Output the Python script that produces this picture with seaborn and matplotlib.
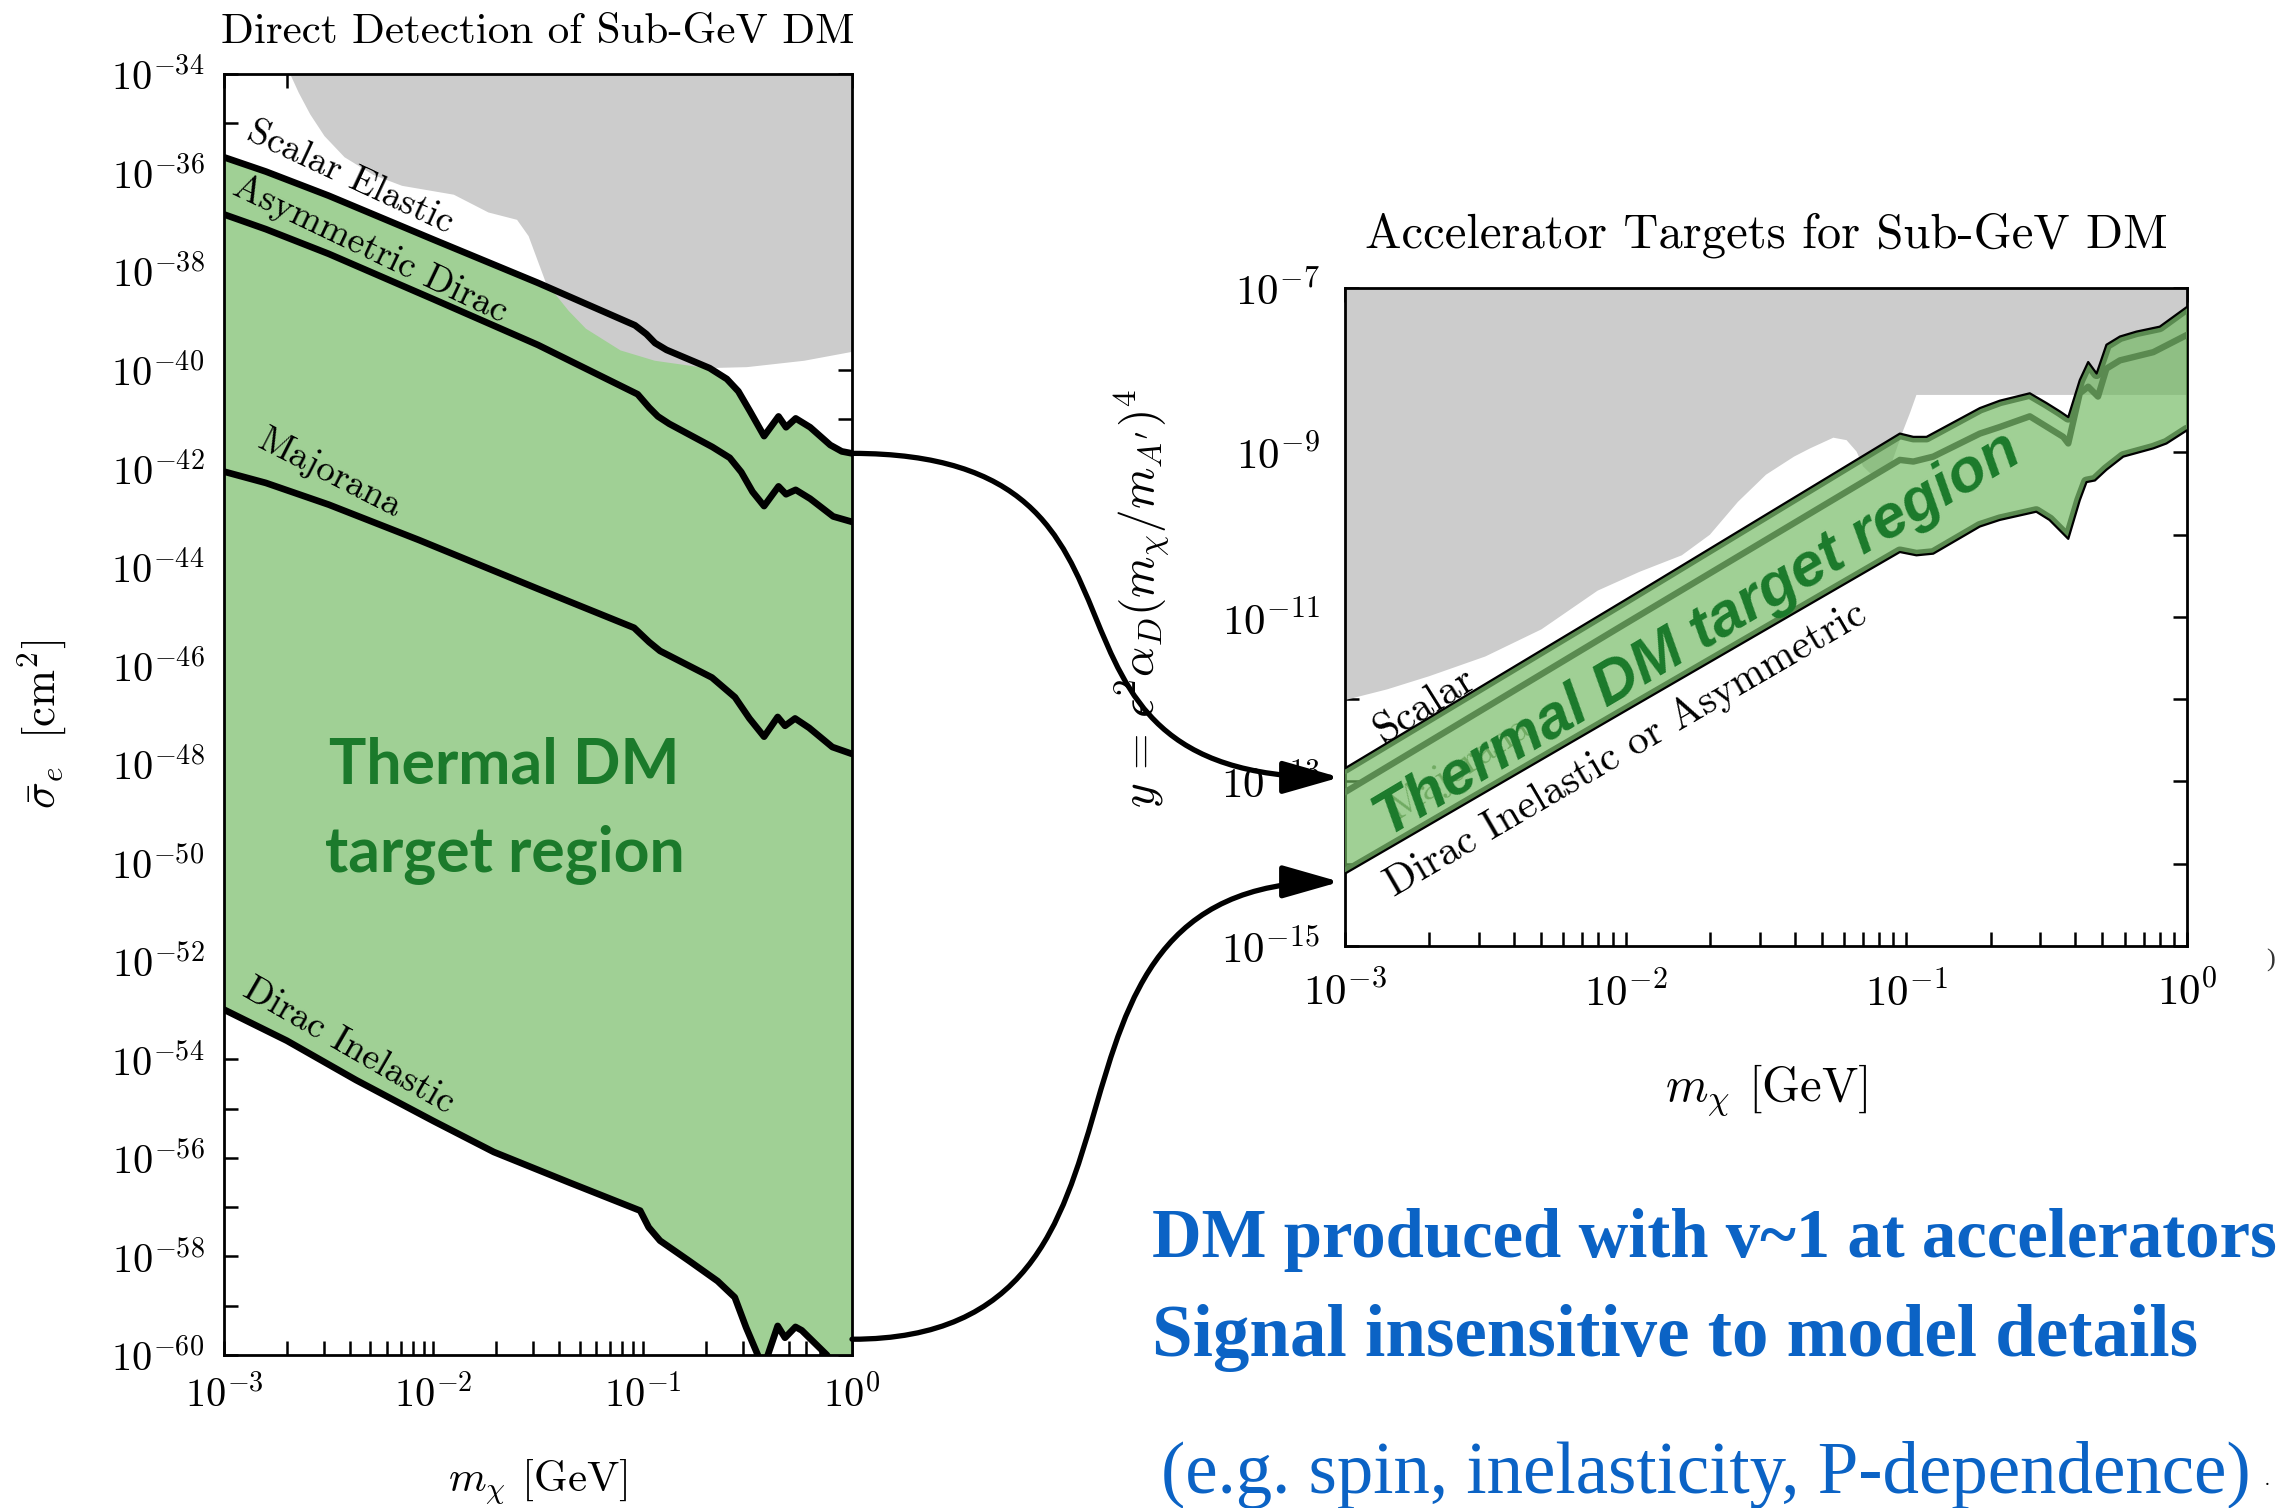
import numpy as np
import matplotlib
matplotlib.use("Agg")
import matplotlib.pyplot as plt
import seaborn as sns
from matplotlib.ticker import LogLocator, FuncFormatter, NullLocator, NullFormatter, FixedLocator
from matplotlib.patches import FancyArrowPatch
from matplotlib.path import Path

# ---------------- Direct detection panel: log10(m_chi/GeV) vs log10(sigma_e/cm^2)
scalar_elastic_logm = [-3.0, -2.8, -2.5, -2.0, -1.5, -1.037, -0.982, -0.941, -0.886, -0.680, -0.598,
                       -0.543, -0.488, -0.420, -0.351, -0.315, -0.269, -0.200, -0.104, -0.049, 0.0]
scalar_elastic_logs = [-35.69, -35.98, -36.47, -37.36, -38.24, -39.10, -39.28, -39.46, -39.60, -39.97, -40.19,
                       -40.44, -40.84, -41.35, -40.95, -41.17, -40.99, -41.17, -41.53, -41.66, -41.70]

asym_dirac_logm = [-3.0, -2.8, -2.5, -2.0, -1.5, -1.024, -0.969, -0.927, -0.873, -0.667, -0.584,
                   -0.529, -0.475, -0.420, -0.351, -0.315, -0.269, -0.200, -0.090, 0.0]
asym_dirac_logs = [-36.85, -37.15, -37.65, -38.57, -39.50, -40.50, -40.77, -40.95, -41.10, -41.57, -41.79,
                   -42.08, -42.48, -42.77, -42.37, -42.53, -42.44, -42.62, -42.98, -43.09]

majorana_logm = [-3.0, -2.8, -2.5, -2.068, -1.5, -1.041, -0.969, -0.917, -0.669, -0.559, -0.490,
                 -0.420, -0.355, -0.320, -0.272, -0.205, -0.094, 0.0]
majorana_logs = [-42.07, -42.30, -42.74, -43.46, -44.45, -45.24, -45.53, -45.71, -46.25, -46.65, -47.08,
                 -47.45, -47.05, -47.23, -47.08, -47.27, -47.66, -47.80]

dirac_inel_logm = [-3.0, -2.7, -2.369, -2.0, -1.711, -1.35, -1.012, -0.971, -0.917, -0.778, -0.642,
                   -0.560, -0.506, -0.450, -0.430, -0.410, -0.355, -0.320, -0.270, -0.240, -0.120, -0.050, 0.0]
dirac_inel_logs = [-52.99, -53.62, -54.42, -55.25, -55.88, -56.50, -57.07, -57.41, -57.68, -58.09, -58.50,
                   -58.83, -59.44, -60.00, -60.40, -60.10, -59.41, -59.65, -59.43, -59.50, -60.00, -60.50, -60.70]

dd_excluded_logm = [-2.684, -2.643, -2.588, -2.520, -2.424, -2.286, -2.149, -1.902, -1.737, -1.600, -1.545,
                    -1.463, -1.353, -1.271, -1.106, -0.942, -0.694, -0.502, -0.228, 0.0]
dd_excluded_logs = [-34.00, -34.38, -34.82, -35.26, -35.69, -36.05, -36.27, -36.45, -36.81, -36.96, -37.29,
                    -38.23, -38.81, -39.17, -39.61, -39.82, -39.97, -39.95, -39.82, -39.64]

# ---------------- Accelerator panel: log10(m_chi/GeV) vs log10(y)
acc_scalar_logm = [-3.0, -2.0, -1.023, -0.975, -0.928, -0.738, -0.667, -0.560, -0.500, -0.453, -0.423,
                   -0.382, -0.352, -0.322, -0.287, -0.239, -0.180, -0.097, 0.0]
acc_scalar_logy = [-12.84, -10.79, -8.77, -8.81, -8.81, -8.46, -8.37, -8.28, -8.40, -8.50, -8.57,
                   -8.12, -7.90, -8.04, -7.69, -7.59, -7.53, -7.47, -7.23]

acc_majorana_logm = [-3.0, -2.0, -1.023, -0.975, -0.904, -0.738, -0.667, -0.560, -0.441, -0.423, -0.382,
                     -0.352, -0.317, -0.287, -0.239, -0.120, 0.0]
acc_majorana_logy = [-13.13, -11.08, -9.09, -9.11, -9.05, -8.77, -8.69, -8.56, -8.81, -8.89, -8.28,
                     -8.20, -8.32, -7.98, -7.88, -7.78, -7.57]

acc_dirac_logm = [-3.0, -2.0, -1.023, -0.964, -0.904, -0.738, -0.667, -0.537, -0.490, -0.423, -0.382,
                  -0.358, -0.328, -0.287, -0.227, -0.120, -0.073, 0.0]
acc_dirac_logy = [-14.12, -12.14, -10.21, -10.25, -10.23, -9.90, -9.82, -9.72, -9.82, -10.05, -9.58,
                  -9.36, -9.34, -9.21, -9.05, -8.95, -8.89, -8.73]

acc_excluded_logm = [-3.0, -2.85, -2.70, -2.50, -2.30, -2.10, -1.95, -1.80, -1.70, -1.60, -1.50, -1.40,
                     -1.343, -1.26, -1.213, -1.177, -1.154, -1.12, -1.06, -1.011, -0.987, -0.964, 0.0]
acc_excluded_logy = [-12.01, -11.88, -11.72, -11.48, -11.15, -10.68, -10.45, -10.25, -10.00, -9.60, -9.27, -9.05,
                     -8.95, -8.82, -8.85, -8.99, -9.17, -9.28, -9.20, -8.73, -8.52, -8.30, -8.30]

left_yticks_exp = list(range(-60, -33))
right_yticks_exp = list(range(-15, -6))

GREEN_FILL = "#a0d095"
BAND_FILL = "#71b961"
BAND_LINE = "#5a8a50"
DARK_GREEN = "#1b7a2b"
GRAY = "#cccccc"
BLUE = "#0b63c5"

sns.set_theme(style="ticks")
plt.rcParams.update({
    "font.family": "serif",
    "font.serif": ["cmr10"],
    "mathtext.fontset": "cm",
    "axes.formatter.use_mathtext": True,
    "axes.linewidth": 2.0,
    "axes.edgecolor": "black",
    "axes.facecolor": "white",
    "figure.facecolor": "white",
    "xtick.direction": "in",
    "ytick.direction": "in",
    "xtick.top": True,
    "ytick.right": True,
    "xtick.major.size": 10, "xtick.minor.size": 10,
    "ytick.major.size": 10, "ytick.minor.size": 0,
    "xtick.major.width": 1.8, "xtick.minor.width": 1.8,
    "ytick.major.width": 1.8,
    "xtick.color": "black", "ytick.color": "black",
    "text.color": "black", "axes.labelcolor": "black",
})


def p10(v):
    return 10.0 ** np.asarray(v, dtype=float)


def decade_formatter(keep):
    def fmt(v, pos):
        e = int(round(np.log10(v)))
        return rf"$10^{{{e}}}$" if keep(e) else ""
    return FuncFormatter(fmt)


def style_log_axes(ax, yexp, keep, pad, size):
    ax.set_xscale("log")
    ax.set_yscale("log")
    ax.xaxis.set_major_locator(LogLocator(base=10, numticks=10))
    ax.xaxis.set_minor_locator(LogLocator(base=10, subs=np.arange(2, 10), numticks=10))
    ax.xaxis.set_minor_formatter(NullFormatter())
    ax.xaxis.set_major_formatter(decade_formatter(lambda e: True))
    ax.yaxis.set_major_locator(FixedLocator(p10(yexp)))
    ax.yaxis.set_minor_locator(NullLocator())
    ax.yaxis.set_major_formatter(decade_formatter(keep))
    ax.tick_params(axis="both", which="both", labelsize=size, pad=pad)
    for s in ax.spines.values():
        s.set_visible(True)
        s.set_linewidth(2.0)


fig = plt.figure(figsize=(22.96, 15.08), dpi=100)

# ======================= Direct detection panel =======================
ax1 = fig.add_axes([0.09756, 0.10146, 0.27352, 0.84947])
style_log_axes(ax1, left_yticks_exp, lambda e: e % 2 == 0, 14, 29)

ax1.fill(np.r_[p10(scalar_elastic_logm), p10(dirac_inel_logm)[::-1]],
         np.r_[p10(scalar_elastic_logs), p10(dirac_inel_logs)[::-1]],
         color=GREEN_FILL, lw=0, zorder=1)
ax1.fill(np.r_[p10(dd_excluded_logm), 1.0],
         np.r_[p10(dd_excluded_logs), 1e-34],
         color=GRAY, lw=0, zorder=2)

for lm, ls in [(scalar_elastic_logm, scalar_elastic_logs), (asym_dirac_logm, asym_dirac_logs),
               (majorana_logm, majorana_logs), (dirac_inel_logm, dirac_inel_logs)]:
    sns.lineplot(x=p10(lm), y=p10(ls), ax=ax1, color="black", lw=4.8, sort=False,
                 estimator=None, zorder=4)

ax1.set_xlim(1e-3, 1.0)
ax1.set_ylim(1e-60, 1e-34)

lab_kw = dict(fontsize=27, ha="center", va="center", rotation_mode="anchor", zorder=5)
ax1.text(p10(-2.398), p10(-36.11), "Scalar Elastic", rotation=-25, **lab_kw)
ax1.text(p10(-2.298), p10(-37.56), "Asymmetric Dirac", rotation=-25.5, **lab_kw)
ax1.text(p10(-2.494), p10(-42.12), "Majorana", rotation=-27, **lab_kw)
ax1.text(p10(-2.403), p10(-53.73), "Dirac Inelastic", rotation=-30, **lab_kw)

ax1.text(0.447, 0.4465, "Thermal DM", transform=ax1.transAxes, ha="center", va="baseline",
         fontsize=45, fontweight="bold", family="Lato", color=DARK_GREEN, zorder=5)
ax1.text(0.447, 0.3778, "target region", transform=ax1.transAxes, ha="center", va="baseline",
         fontsize=45, fontweight="bold", family="Lato", color=DARK_GREEN, zorder=5)

ax1.set_title("Direct Detection of Sub-GeV DM", fontsize=31, pad=22)
ax1.set_xlabel(r"$m_\chi$ [GeV]", fontsize=31)
ax1.set_ylabel(r"$\bar{\sigma}_e\ \ [\mathrm{cm}^2]$", fontsize=32)
ax1.xaxis.set_label_coords(0.5, -0.080)
ax1.yaxis.set_label_coords(-0.247, 0.492)

# ======================= Accelerator panel =======================
ax2 = fig.add_axes([0.5858, 0.37268, 0.36672, 0.43634])
style_log_axes(ax2, right_yticks_exp, lambda e: e % 2 != 0, 18, 31)

ax2.fill(np.r_[p10(acc_excluded_logm), 1.0, 1e-3],
         np.r_[p10(acc_excluded_logy), 1e-7, 1e-7],
         color=GRAY, lw=0, zorder=1)

ax2.text(p10(-2.59), p10(-12.84), "Majorana", rotation=33, fontsize=28, ha="center", va="center",
         rotation_mode="anchor", color="#6f8f66", zorder=2)

band = ax2.fill(np.r_[p10(acc_scalar_logm), p10(acc_dirac_logm)[::-1]],
                np.r_[p10(acc_scalar_logy), p10(acc_dirac_logy)[::-1]],
                color=BAND_FILL, alpha=0.67, lw=0, zorder=3)[0]

for lm, ly in [(acc_scalar_logm, acc_scalar_logy), (acc_dirac_logm, acc_dirac_logy)]:
    sns.lineplot(x=p10(lm), y=p10(ly), ax=ax2, color=BAND_LINE, lw=8.0, sort=False,
                 estimator=None, zorder=4)
    ax2.lines[-1].set_clip_path(band)
sns.lineplot(x=p10(acc_majorana_logm), y=p10(acc_majorana_logy), ax=ax2, color=BAND_LINE, lw=4.6,
             sort=False, estimator=None, zorder=4)
for lm, ly in [(acc_scalar_logm, acc_scalar_logy), (acc_dirac_logm, acc_dirac_logy)]:
    sns.lineplot(x=p10(lm), y=p10(ly), ax=ax2, color="black", lw=1.6, sort=False,
                 estimator=None, zorder=5)

ax2.set_xlim(1e-3, 1.0)
ax2.set_ylim(1e-15, 1e-7)

ax2.text(p10(-2.715), p10(-12.07), "Scalar", rotation=32, fontsize=30, ha="center", va="center",
         rotation_mode="anchor", zorder=6)
ax2.text(p10(-2.0), p10(-12.61), "Dirac Inelastic or Asymmetric", rotation=30.2, fontsize=30,
         ha="center", va="center", rotation_mode="anchor", zorder=6)
ax2.text(p10(-1.742), p10(-11.22), "Thermal DM target region", rotation=30.7, fontsize=44,
         fontweight="bold", fontstyle="italic", family="Liberation Sans", color=DARK_GREEN,
         ha="center", va="center", rotation_mode="anchor", zorder=6)

ax2.set_title("Accelerator Targets for Sub-GeV DM", fontsize=35, pad=29)
ax2.set_xlabel(r"$m_\chi$ [GeV]", fontsize=35)
ax2.set_ylabel(r"$y\,=\,\epsilon^2\alpha_D(m_\chi/m_{A^\prime})^4$", fontsize=34)
ax2.xaxis.set_label_coords(0.5, -0.177)
ax2.yaxis.set_label_coords(-0.206, 0.528)

# ======================= Connecting arrows =======================
to_fig = fig.transFigure.inverted()


def s_arrow(p_start, p_end, bend):
    a = np.array(p_start, dtype=float)
    b = np.array(p_end, dtype=float)
    verts = np.array([a, a + [bend, 0.0], b - [bend, 0.0], b])
    verts = to_fig.transform(verts)
    path = Path(verts, [Path.MOVETO, Path.CURVE4, Path.CURVE4, Path.CURVE4])
    arr = FancyArrowPatch(path=path, arrowstyle="-|>,head_length=3.5,head_width=1.0",
                          mutation_scale=10, lw=3.8, color="black", transform=fig.transFigure,
                          zorder=10)
    fig.add_artist(arr)


s_arrow(ax1.transData.transform((1.0, p10(-41.70))),
        ax2.transData.transform((p10(-3.018), p10(-12.95))), 350)
s_arrow(ax1.transData.transform((1.0, p10(-59.68))),
        ax2.transData.transform((p10(-3.018), p10(-14.22))), 350)

# ======================= Slide text =======================
fig.text(0.5017, 0.1664, "DM produced with v~1 at accelerators", fontsize=49.5, fontweight="bold",
         family="Liberation Serif", color=BLUE, ha="left", va="baseline")
fig.text(0.5017, 0.1008, "Signal insensitive to model details", fontsize=52.5, fontweight="bold",
         family="Liberation Serif", color=BLUE, ha="left", va="baseline")
fig.text(0.5057, 0.0099, "(e.g. spin, inelasticity, P-dependence)", fontsize=52.5,
         family="Liberation Serif", color=BLUE, ha="left", va="baseline")
fig.text(0.9865, 0.0153, ".", fontsize=14, family="Liberation Serif", color="black")
fig.text(0.9872, 0.3590, ")", fontsize=19, family="Liberation Serif", color="#333333")

fig.savefig("out.png", dpi=100)
